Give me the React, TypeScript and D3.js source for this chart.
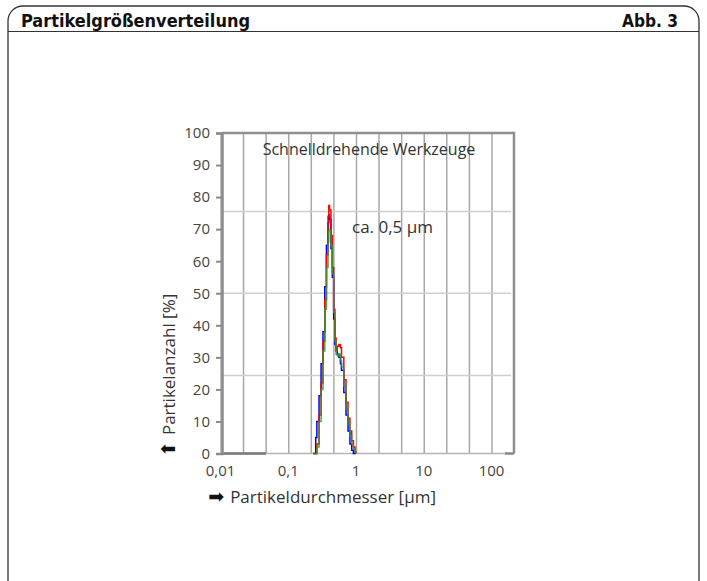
import React, { useEffect, useRef } from 'react';
import * as d3 from 'd3';

// values (particle size in µm, share in %)
const sizes = [0.23, 0.25, 0.26, 0.28, 0.30, 0.32, 0.34, 0.36, 0.38, 0.39, 0.40, 0.42, 0.44, 0.46, 0.48, 0.50, 0.52, 0.55, 0.58, 0.60, 0.65, 0.70, 0.75, 0.80, 0.85, 0.90, 0.95, 0.98];
const blueVals = [0, 5, 10, 18, 28, 38, 52, 65, 72, 74.5, 73, 64, 55, 42, 34, 32, 31, 30, 28, 26, 19, 12, 7, 3, 1, 0, 0, 0];
const redVals = [0, 0, 3, 12, 22, 35, 48, 62, 74, 77.4, 76, 68, 58, 45, 36, 32, 33.5, 34, 33, 30, 23, 16, 11, 7, 4, 2, 0.5, 0];
const greenVals = [0, 0, 2, 10, 20, 32, 45, 58, 66, 69.5, 69.8, 65, 56, 44, 35, 31, 30.5, 31, 29, 27, 21, 14, 9, 5.5, 3, 1.5, 0.5, 0];

const yTicks = [0, 10, 20, 30, 40, 50, 60, 70, 80, 90, 100];
const xTicks = [0.01, 0.1, 1, 10, 100];
const xTickLabels = ['0,01', '0,1', '1', '10', '100'];
const xGrid = [0.01, 0.0215, 0.0464, 0.1, 0.215, 0.464, 1, 2.15, 4.64, 10, 21.5, 46.4, 100];
const hGrid = [24.3, 50, 75.5];

const series = [
  { name: 'blau', values: blueVals, color: '#0000ff', opacity: 1 },
  { name: 'rot', values: redVals, color: '#ff0000', opacity: 1 },
  { name: 'gruen', values: greenVals, color: '#2e9a2e', opacity: 0.85 },
];

const W = 707, H = 581;
const left = 222, right = 514, top = 133, bottom = 453.5;
const textFont = '"Open Sans", "Noto Sans", sans-serif';
const headFont = '"DejaVu Sans Condensed", "DejaVu Sans", sans-serif';

export default function App() {
  const ref = useRef<SVGSVGElement>(null);

  useEffect(() => {
    const svg = d3.select(ref.current);
    svg.selectAll('*').remove();

    // frame with rounded top corners
    const fl = 8, fr = 699, ft = 6, r = 15;
    svg.append('path')
      .attr('d', `M${fl},${H + 5} L${fl},${ft + r} A${r},${r} 0 0 1 ${fl + r},${ft} L${fr - r},${ft} A${r},${r} 0 0 1 ${fr},${ft + r} L${fr},${H + 5}`)
      .attr('fill', 'none').attr('stroke', '#333').attr('stroke-width', 1.3);
    svg.append('line').attr('x1', fl).attr('x2', fr).attr('y1', 31.5).attr('y2', 31.5)
      .attr('stroke', '#333').attr('stroke-width', 1.2);

    svg.append('text').attr('x', 21).attr('y', 27)
      .attr('font-family', headFont)
      .attr('font-weight', 'bold').attr('font-size', 17).attr('fill', '#111')
      .attr('textLength', 229).attr('lengthAdjust', 'spacingAndGlyphs')
      .text('Partikelgrößenverteilung');
    svg.append('text').attr('x', 622).attr('y', 27)
      .attr('font-family', headFont)
      .attr('font-weight', 'bold').attr('font-size', 17).attr('fill', '#111')
      .attr('textLength', 56).attr('lengthAdjust', 'spacingAndGlyphs')
      .text('Abb. 3');

    const x = d3.scaleLog().domain([0.01, 100]).range([221, 492]);
    const y = d3.scaleLinear().domain([0, 100]).range([bottom, top]);

    const g = svg.append('g');

    // vertical grid
    g.selectAll('.vg').data(xGrid).enter().append('line')
      .attr('x1', (d) => x(d)).attr('x2', (d) => x(d))
      .attr('y1', top).attr('y2', bottom)
      .attr('stroke', '#a8a8a8').attr('stroke-width', 1.5);

    // horizontal grid
    g.selectAll('.hg').data(hGrid).enter().append('line')
      .attr('x1', left).attr('x2', right - 3)
      .attr('y1', (d) => y(d)).attr('y2', (d) => y(d))
      .attr('stroke', '#cfcfcf').attr('stroke-width', 1.5);

    // bottom line
    g.append('line').attr('x1', left).attr('x2', right).attr('y1', bottom).attr('y2', bottom)
      .attr('stroke', '#b5b5b5').attr('stroke-width', 1.5);
    g.append('line').attr('x1', left).attr('x2', 266).attr('y1', bottom).attr('y2', bottom)
      .attr('stroke', '#777').attr('stroke-width', 2.5);
    g.append('line').attr('x1', 505).attr('x2', right).attr('y1', bottom).attr('y2', bottom)
      .attr('stroke', '#888').attr('stroke-width', 2.5);

    // top and right border
    g.append('path')
      .attr('d', `M${left},${top} L${right},${top} L${right},${bottom}`)
      .attr('fill', 'none').attr('stroke', '#8f8f8f').attr('stroke-width', 2.5);

    // y axis
    const yAxis = g.append('g').attr('transform', `translate(${left},0)`)
      .call(d3.axisLeft(y).tickValues(yTicks).tickSize(6).tickPadding(6));
    yAxis.select('.domain').attr('stroke', '#8a8a8a').attr('stroke-width', 2.5);
    yAxis.selectAll('.tick line').attr('stroke', '#8a8a8a').attr('stroke-width', 2);
    yAxis.selectAll('.tick text').attr('font-family', textFont).attr('font-size', 15).attr('fill', '#444');

    // x tick labels
    g.selectAll('.xl').data(xTicks).enter().append('text')
      .attr('x', (d) => x(d) - 0.5).attr('y', 476)
      .attr('text-anchor', 'middle')
      .attr('font-family', textFont).attr('font-size', 15).attr('fill', '#444')
      .text((d, i) => xTickLabels[i]);

    // curves
    const line = d3.line<number>()
      .x((d, i) => x(sizes[i]))
      .y((d) => y(d))
      .curve(d3.curveStepAfter);
    series.forEach((s) => {
      g.append('path').datum(s.values)
        .attr('d', line)
        .attr('fill', 'none').attr('stroke', s.color)
        .attr('stroke-width', 1.5).attr('opacity', s.opacity);
    });

    // annotations
    g.append('text').attr('x', 369).attr('y', 155).attr('text-anchor', 'middle')
      .attr('font-family', textFont).attr('font-size', 16).attr('fill', '#333')
      .text('Schnelldrehende Werkzeuge');
    g.append('text').attr('x', 352).attr('y', 233)
      .attr('font-family', textFont).attr('font-size', 17).attr('fill', '#333')
      .text('ca. 0,5 µm');

    // axis titles
    const yt = g.append('text').attr('transform', 'translate(175,457) rotate(-90)')
      .attr('font-family', textFont).attr('font-size', 17).attr('fill', '#333');
    yt.append('tspan').attr('font-family', '"DejaVu Sans", sans-serif').attr('font-size', 19).attr('fill', '#111').text('⬆');
    yt.append('tspan').attr('dx', 6).text('Partikelanzahl [%]');

    const xt = g.append('text').attr('x', 436).attr('y', 503).attr('text-anchor', 'end')
      .attr('font-family', textFont).attr('font-size', 17).attr('fill', '#333');
    xt.append('tspan').attr('font-family', '"DejaVu Sans", sans-serif').attr('font-size', 19).attr('fill', '#111').text('➡');
    xt.append('tspan').attr('dx', 6).text('Partikeldurchmesser [µm]');
  }, []);

  return (
    <svg ref={ref} width={W} height={H} style={{ position: 'absolute', left: 0, top: 0, background: '#fff' }} />
  );
}
